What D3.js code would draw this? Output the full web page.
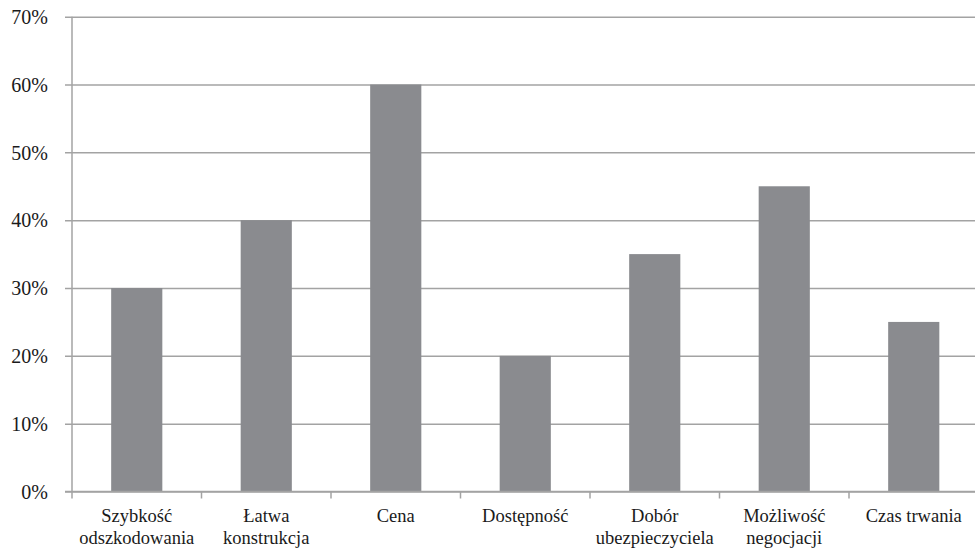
<!DOCTYPE html>
<html>
<head>
<meta charset="utf-8">
<script src="https://cdn.jsdelivr.net/npm/d3@7"></script>
<style>
  html, body { margin: 0; padding: 0; background: #fff; }
  svg { display: block; }
  svg text { font-family: "Liberation Serif", "Liberation Sans", sans-serif; }
</style>
</head>
<body>
<svg id="chart" width="975" height="549"></svg>
<script>
// Categories (two-line labels) and their shares
const categories = [
  ["Szybkość", "odszkodowania"],
  ["Łatwa", "konstrukcja"],
  ["Cena"],
  ["Dostępność"],
  ["Dobór", "ubezpieczyciela"],
  ["Możliwość", "negocjacji"],
  ["Czas trwania"]
];
const values = [0.30, 0.40, 0.60, 0.20, 0.35, 0.45, 0.25];
const yTicks = [0, 0.1, 0.2, 0.3, 0.4, 0.5, 0.6, 0.7];

const svg = d3.select("#chart");
const margin = { left: 72, top: 16.7, bottom: 549 - 491.5 };
const plotW = 7 * 129.5;
const plotH = 549 - margin.top - margin.bottom;

const g = svg.append("g")
  .attr("transform", `translate(${margin.left},${margin.top})`);

const x = d3.scaleBand()
  .domain(categories.map(c => c.join(" ")))
  .range([0, plotW])
  .paddingInner(0.605)
  .paddingOuter(0.3025);

const y = d3.scaleLinear().domain([0, 0.7]).range([plotH, 0]);

// Horizontal gridlines with short stubs left of the axis
const yAxis = g.append("g")
  .call(d3.axisLeft(y).tickValues(yTicks).tickFormat(d3.format(".0%")).tickSize(-plotW).tickPadding(24))
  .attr("font-family", null);
yAxis.select(".domain").remove();
yAxis.selectAll(".tick line")
  .attr("x1", -7)
  .attr("stroke", "#a3a3a3")
  .attr("stroke-width", 1.5);
yAxis.selectAll(".tick text")
  .attr("font-size", 20)
  .attr("dy", "0.34em")
  .attr("fill", "#1a1a1a");

// Bars
g.selectAll("rect.bar")
  .data(values)
  .join("rect")
  .attr("class", "bar")
  .attr("x", (d, i) => x(categories[i].join(" ")))
  .attr("width", x.bandwidth())
  .attr("y", d => y(d))
  .attr("height", d => plotH - y(d))
  .attr("fill", "#8a8b8f");

// Vertical axis line
g.append("line")
  .attr("x1", 0).attr("x2", 0)
  .attr("y1", y(0.7)).attr("y2", plotH)
  .attr("stroke", "#a3a3a3").attr("stroke-width", 1.5);

// Baseline and category boundary ticks
g.append("line")
  .attr("x1", -7).attr("x2", plotW)
  .attr("y1", plotH).attr("y2", plotH)
  .attr("stroke", "#a3a3a3").attr("stroke-width", 1.5);

const bounds = d3.range(categories.length + 1).map(i => i * x.step());
g.selectAll("line.bound")
  .data(bounds)
  .join("line")
  .attr("class", "bound")
  .attr("x1", d => d).attr("x2", d => d)
  .attr("y1", plotH).attr("y2", plotH + 7)
  .attr("stroke", "#a3a3a3").attr("stroke-width", 1.5);

// Category labels
const labels = g.selectAll("text.cat")
  .data(categories)
  .join("text")
  .attr("class", "cat")
  .attr("text-anchor", "middle")
  .attr("font-size", 18.5)
  .attr("fill", "#1a1a1a")
  .attr("transform", d => `translate(${x(d.join(" ")) + x.bandwidth() / 2},${plotH + 30.5})`);
labels.selectAll("tspan")
  .data(d => d)
  .join("tspan")
  .attr("x", 0)
  .attr("y", (d, i) => i * 22)
  .text(d => d);
</script>
</body>
</html>
